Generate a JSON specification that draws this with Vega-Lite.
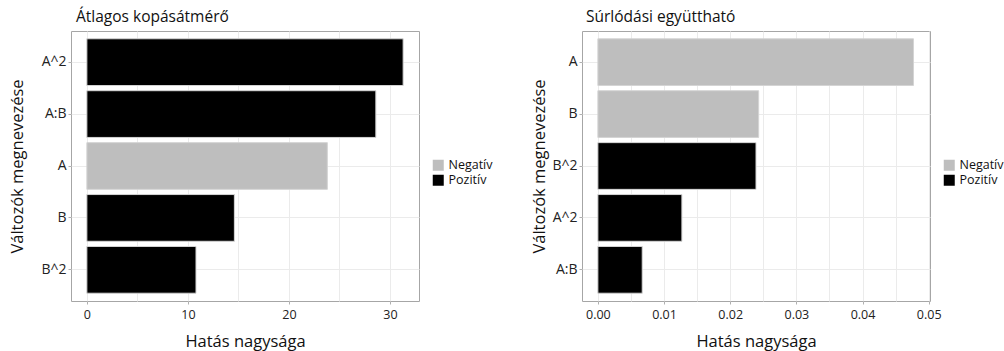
{
  "$schema": "https://vega.github.io/schema/vega-lite/v6.json",
  "padding": {"left": 9, "top": 9, "right": 0, "bottom": 0},
  "spacing": 37,
  "background": "white",
  "config": {
    "font": "Open Sans",
    "view": {"stroke": "#a6a6a6", "strokeWidth": 1},
    "axis": {"labelColor": "#222222", "titleColor": "#111111", "titleFontWeight": "normal", "tickColor": "#b0b0b0", "tickSize": 3, "domain": false, "gridColor": "#ebebeb"},
    "title": {"fontWeight": "normal", "color": "#111111"}
  },
  "datasets": {
    "left": [
      {"valtozo": "A^2", "hatas": 31.3, "irany": "Pozitív"},
      {"valtozo": "A:B", "hatas": 28.6, "irany": "Pozitív"},
      {"valtozo": "A", "hatas": 23.8, "irany": "Negatív"},
      {"valtozo": "B", "hatas": 14.6, "irany": "Pozitív"},
      {"valtozo": "B^2", "hatas": 10.8, "irany": "Pozitív"}
    ],
    "right": [
      {"valtozo": "A", "hatas": 0.0477, "irany": "Negatív"},
      {"valtozo": "B", "hatas": 0.0243, "irany": "Negatív"},
      {"valtozo": "B^2", "hatas": 0.0239, "irany": "Pozitív"},
      {"valtozo": "A^2", "hatas": 0.0127, "irany": "Pozitív"},
      {"valtozo": "A:B", "hatas": 0.0067, "irany": "Pozitív"}
    ]
  },
  "resolve": {"scale": {"color": "independent", "x": "independent", "y": "independent"}, "legend": {"color": "independent"}},
  "hconcat": [
    {
      "width": 348,
      "height": 270,
      "data": {"name": "left"},
      "title": {"text": "Átlagos kopásátmérő", "anchor": "start", "frame": "group", "fontSize": 15.5, "dx": 5, "offset": 6},
      "mark": {"type": "bar", "stroke": "#d4d4d4", "strokeWidth": 1},
      "encoding": {
        "y": {"field": "valtozo", "type": "nominal", "sort": ["A^2", "A:B", "A", "B", "B^2"],
          "scale": {"paddingInner": 0.1, "paddingOuter": 0.15},
          "axis": {"title": "Változók megnevezése", "titleFontSize": 16.5, "labelFontSize": 14, "titlePadding": 15, "labelPadding": 2, "grid": true}},
        "x": {"field": "hatas", "type": "quantitative",
          "scale": {"domain": [-1.57, 32.87], "nice": false, "zero": false},
          "axis": {"title": "Hatás nagysága", "titleFontSize": 16.5, "labelFontSize": 12.5, "titlePadding": 13, "labelPadding": 4,
            "values": [0, 5, 10, 15, 20, 25, 30],
            "labelExpr": "datum.value % 10 === 0 ? datum.label : ''",
            "tickOpacity": {"condition": {"test": "datum.value % 10 !== 0", "value": 0}, "value": 1}}},
        "x2": {"datum": 0},
        "color": {"field": "irany", "type": "nominal",
          "scale": {"domain": ["Negatív", "Pozitív"], "range": ["#bebebe", "#000000"]},
          "legend": {"title": null, "orient": "none", "legendX": 361, "legendY": 128, "symbolType": "square", "symbolSize": 121, "symbolStrokeWidth": 0, "labelFontSize": 12.5, "labelOffset": 4, "rowPadding": 2, "padding": 0, "labelColor": "#111111"}}
      }
    },
    {
      "width": 348,
      "height": 270,
      "data": {"name": "right"},
      "title": {"text": "Súrlódási együttható", "anchor": "start", "frame": "group", "fontSize": 15.5, "dx": 4, "offset": 6},
      "mark": {"type": "bar", "stroke": "#d4d4d4", "strokeWidth": 1},
      "encoding": {
        "y": {"field": "valtozo", "type": "nominal", "sort": ["A", "B", "B^2", "A^2", "A:B"],
          "scale": {"paddingInner": 0.1, "paddingOuter": 0.15},
          "axis": {"title": "Változók megnevezése", "titleFontSize": 16.5, "labelFontSize": 14, "titlePadding": 4, "labelPadding": 2, "grid": true}},
        "x": {"field": "hatas", "type": "quantitative",
          "scale": {"domain": [-0.0024, 0.0502], "nice": false, "zero": false},
          "axis": {"title": "Hatás nagysága", "titleFontSize": 16.5, "labelFontSize": 12.5, "titlePadding": 13, "labelPadding": 4, "format": ".2f",
            "values": [0, 0.005, 0.01, 0.015, 0.02, 0.025, 0.03, 0.035, 0.04, 0.045, 0.05],
            "labelExpr": "round(datum.value * 1000) % 10 === 0 ? datum.label : ''",
            "tickOpacity": {"condition": {"test": "round(datum.value * 1000) % 10 !== 0", "value": 0}, "value": 1}}},
        "x2": {"datum": 0},
        "color": {"field": "irany", "type": "nominal",
          "scale": {"domain": ["Negatív", "Pozitív"], "range": ["#bebebe", "#000000"]},
          "legend": {"title": null, "orient": "none", "legendX": 361, "legendY": 128, "symbolType": "square", "symbolSize": 121, "symbolStrokeWidth": 0, "labelFontSize": 12.5, "labelOffset": 4, "rowPadding": 2, "padding": 0, "labelColor": "#111111"}}
      }
    }
  ]
}
